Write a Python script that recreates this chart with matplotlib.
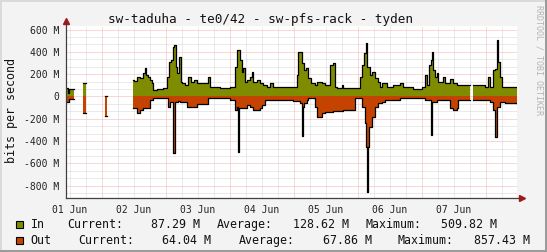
import numpy as np
import matplotlib
matplotlib.use("Agg")
from matplotlib import pyplot as plt
from matplotlib.patches import Rectangle

nan = np.nan

# hours since 01 Jun (label position), values in Mbit/s
in_t = [-1.31, -0.75, -0.19, 1.5, 4.88, 6.0, 13.31, 13.88,
        23.51, 24.0, 25.01, 26.25, 27.26, 28.13, 28.5, 29.36, 30.0, 30.64, 31.24,
        32.51, 34.99, 36.26, 37.24, 37.76, 38.51, 39.0, 39.75, 40.24, 40.76,
        41.51, 42.0, 43.13, 44.36, 45.26, 46.5, 47.51, 49.39, 51.86, 52.5,
        53.14, 56.25, 60.0, 61.88, 62.51, 63.75, 64.39, 64.99, 65.63, 66.26,
        67.5, 68.14, 68.63, 70.01, 71.25, 72.49, 73.76, 75.0, 76.24, 85.01,
        85.5, 86.89, 87.75, 88.5, 89.36, 90.26, 91.88, 92.51, 94.39, 95.63,
        97.5, 98.51, 99.38, 100.01, 101.89, 102.49, 108.75, 109.39, 110.25,
        111.0, 111.49, 112.5, 113.14, 114.38, 115.61, 116.25, 116.89, 118.76,
        121.24, 123.75, 124.99, 128.74, 131.89, 133.13, 133.76, 134.63, 135.26,
        135.86, 136.24, 136.88, 137.51, 138.11, 139.99, 140.63, 142.5, 143.74,
        145.01, 150.0, 151.24, 155.63, 156.86, 157.5, 158.51, 159.38, 160.01,
        160.61, 161.25, 161.89, 167.44]
in_v = [80, 30, 65, nan, 125, nan, 0, nan,
        148, 140, 178, 163, 208, 253, 193, 178, 148, 118, 58,
        64, 73, 178, 312, 327, 447, 462, 267, 208, 357,
        133, 118, 103, 178, 133, 148, 118, 124, 178, 88,
        82, 73, 88, 267, 417, 328, 223, 253, 133, 148,
        178, 223, 133, 148, 118, 103, 88, 118, 88, 193,
        403, 298, 238, 253, 163, 118, 103, 133, 118, 103,
        283, 298, 88, 73, 103, 73, 178, 283, 388,
        478, 268, 193, 223, 163, 133, 88, 118, 88,
        103, 118, 88, 64, 88, 193, 103, 283, 327,
        400, 238, 178, 208, 133, 178, 118, 160, 118,
        103, nan, 103, 88, 178, 88, 238, 250, 510,
        312, 178, 88, 87]

out_t = [-1.31, -0.56, -0.19, 1.5, 4.88, 6.0, 13.31, 13.88,
         23.51, 25.01, 26.25, 27.49, 30.0, 31.24, 36.86, 37.5, 38.74, 39.19,
         40.61, 41.25, 43.76, 45.0, 47.51, 51.86, 60.0, 61.88, 62.51, 63.11,
         63.56, 66.26, 67.5, 68.74, 71.25, 71.89, 73.13, 83.74, 86.25, 86.89,
         87.38, 87.75, 88.76, 89.36, 91.88, 92.51, 94.39, 95.63, 98.74, 102.49,
         106.88, 109.39, 110.63, 111.11, 111.49, 111.86, 112.24, 113.14, 114.38,
         115.61, 116.89, 118.13, 123.75, 133.13, 135.38, 135.86, 137.51, 142.5,
         143.74, 145.01, 145.61, 150.0, 151.24, 157.5, 158.74, 159.49, 160.01,
         161.25, 163.13, 167.44]
out_v = [-47, -35, -25, nan, -147, nan, -172, nan,
         -107, -151, -120, -106, -31, -16, -91, -46, -505, -46,
         -37, -46, -91, -97, -67, -16, -31, -121, -91, -500,
         -106, -76, -91, -121, -106, -76, -31, -40, -61, -350,
         -91, -61, -31, -16, -91, -181, -151, -136, -127, -121,
         -16, -91, -241, -451, -857, -451, -271, -181, -91,
         -61, -46, -31, -16, -31, -346, -46, -31, -106,
         -121, -106, -31, nan, -31, -46, -121, -361, -91,
         -46, -61, -64]

day_labels = ["01 Jun", "02 Jun", "03 Jun", "04 Jun", "05 Jun", "06 Jun", "07 Jun"]
y_ticks = [600, 400, 200, 0, -200, -400, -600, -800]
y_labels = ["600 M", "400 M", "200 M", "0", "-200 M", "-400 M", "-600 M", "-800 M"]

legend_names = ["In", "Out"]
legend_cur = ["87.29 M", "64.04 M"]
legend_avg = ["128.62 M", "67.86 M"]
legend_max = ["509.82 M", "857.43 M"]

IN_COL = "#7F8C00"
OUT_COL = "#C44300"
MONO = "DejaVu Sans Mono"
W, H = 547, 252


def steps(t, v):
    t = np.asarray(t, float)
    v = np.asarray(v, float)
    return np.repeat(t, 2)[1:], np.repeat(v, 2)[:-1]


def fx(x):
    return x / W


def fy(y):
    return 1 - y / H


fig = plt.figure(figsize=(W / 100, H / 100), dpi=100, facecolor="#F3F3F3")
ax = fig.add_axes([fx(66), fy(198), (516.5 - 66) / W, (198 - 26) / H])
ax.set_facecolor("white")
ax.set_xlim(-1.5, 167.44)
ax.set_ylim(-910, 632)
for s in ax.spines.values():
    s.set_visible(False)

# grid
dots = (0, (1, 1))
for v in np.arange(-13, 10) * 200 / 3:
    major = abs(v / 200 - round(v / 200)) < 1e-6
    ax.axhline(v, color="#F7B0B0" if major else "#D6D6D6", lw=0.72, ls=dots, zorder=0)
for t in np.arange(0, 168, 6):
    major = (t - 12) % 24 == 0
    ax.axvline(t, color="#F7B0B0" if major else "#D6D6D6", lw=0.72, ls=dots, zorder=0)

xi, yi = steps(in_t, in_v)
xo, yo = steps(out_t, out_v)
ax.fill_between(xi, 0, yi, color=IN_COL, lw=0, zorder=2)
ax.fill_between(xo, 0, yo, color=OUT_COL, lw=0, zorder=2)
ax.plot(xi, yi, color="black", lw=0.9, zorder=3)
ax.plot(xo, yo, color="black", lw=0.9, zorder=3)

ax.set_xticks(np.arange(0, 168, 24), day_labels)
ax.set_yticks(y_ticks, y_labels)
ax.tick_params(length=0, labelsize=7, colors="#222222")
ax.tick_params(axis="x", pad=5)
ax.tick_params(axis="y", pad=4.5)
for lab in ax.get_xticklabels() + ax.get_yticklabels():
    lab.set_family(MONO)

# axes with arrows
ax.plot([0, 0], [0, 1.025], transform=ax.transAxes, color="#404040", lw=0.9, clip_on=False, zorder=4)
ax.plot([0, 1.012], [0, 0], transform=ax.transAxes, color="#404040", lw=0.9, clip_on=False, zorder=4)
ax.plot([0], [1.03], transform=ax.transAxes, marker="^", color="#9B1B1B", ms=4, clip_on=False, zorder=5)
ax.plot([1.012], [0], transform=ax.transAxes, marker=">", color="#9B1B1B", ms=4, clip_on=False, zorder=5)

fig.text(fx(261), fy(19.5), "sw-taduha - te0/42 - sw-pfs-rack - tyden", ha="center", va="center",
         size=9.1, family=MONO, color="#111111")
fig.text(fx(11.7), fy(110.5), "bits per second", rotation=90, ha="center", va="center",
         size=8.4, family=MONO, color="#111111")
fig.text(fx(538.5), fy(60), "RRDTOOL / TOBI OETIKER", rotation=270, ha="center", va="center",
         size=6, family=MONO, color="#B4B4B4")

# legend
rows_y = [224.8, 240.6]
cols = [(30.7, 67.3, 150.7, 216.3, 293.0, 365.7, 441.4),
        (30.7, 78.5, 162.2, 238.3, 322.7, 397.8, 474.5)]
for i, col in enumerate([IN_COL, OUT_COL]):
    y = rows_y[i]
    fig.add_artist(Rectangle((fx(16), fy(y + 3.6)), 7 / W, 7.5 / H, transform=fig.transFigure,
                             facecolor=col, edgecolor="black", lw=0.8))
    parts = [legend_names[i], "Current:", legend_cur[i], "Average:", legend_avg[i],
             "Maximum:", legend_max[i]]
    for x, s in zip(cols[i], parts):
        fig.text(fx(x), fy(y), s, ha="left", va="center", size=8.4, family=MONO, color="#111111")

# shaded frame
fig.add_artist(Rectangle((0, fy(2)), 1, 2 / H, transform=fig.transFigure, color="#DADADA", lw=0))
fig.add_artist(Rectangle((0, 0), 2 / W, 1, transform=fig.transFigure, color="#DADADA", lw=0))
fig.add_artist(Rectangle((fx(545), 0), 2 / W, 1, transform=fig.transFigure, color="#9A9A9A", lw=0))
fig.add_artist(Rectangle((0, 0), 1, 2 / H, transform=fig.transFigure, color="#9A9A9A", lw=0))

fig.savefig("out.png", dpi=100, facecolor=fig.get_facecolor())
